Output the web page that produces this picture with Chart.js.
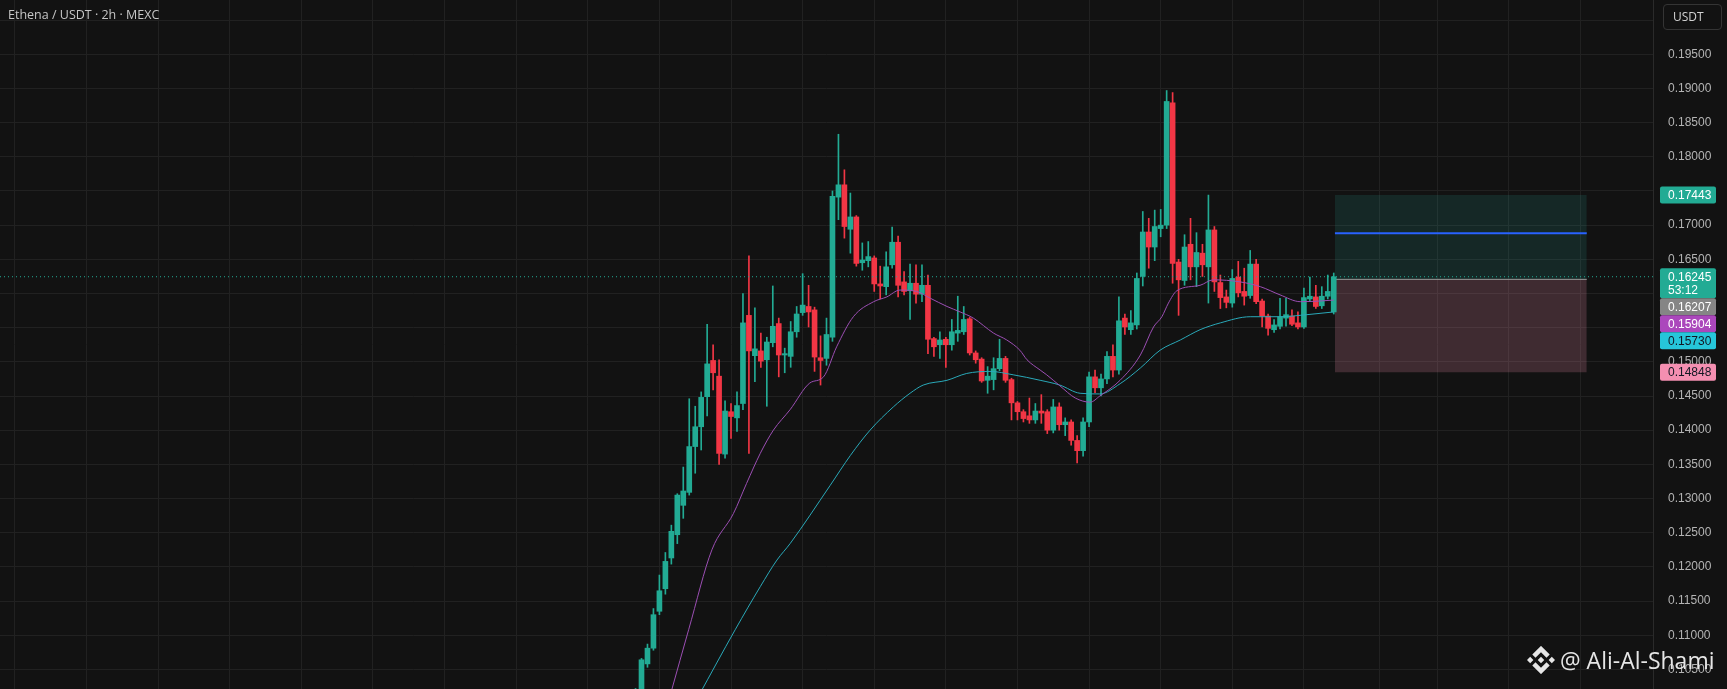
<!DOCTYPE html>
<html>
<head>
<meta charset="utf-8">
<title>Ethena / USDT 2h</title>
<script src="https://cdn.jsdelivr.net/npm/chart.js@4.4.1/dist/chart.umd.min.js"></script>
<style>
  html, body { margin: 0; padding: 0; background: #121212; overflow: hidden; }
  #wrap { position: relative; width: 1727px; height: 689px; }
  #chart { display: block; }
  #title { position: absolute; left: 8px; top: 6px; font: 12.5px 'Open Sans', sans-serif; color: #c6c6c6; }
  #unit { position: absolute; left: 1663px; top: 4px; width: 59px; height: 26px; box-sizing: border-box;
          border: 1px solid #343434; border-radius: 4px; font: 12px 'Open Sans', sans-serif; color: #d2d2d2;
          line-height: 24px; padding-left: 9px; }
  #mark { position: absolute; left: 1527px; top: 644px; display: flex; align-items: center; color: #e6e6e6;
          font: 23px 'Open Sans', sans-serif; }
  #mark svg { width: 28px; height: 28px; margin-right: 5px; }
</style>
</head>
<body>
<div id="wrap">
  <canvas id="chart" width="1727" height="689"></canvas>
  <div id="title">Ethena / USDT · 2h · MEXC</div>
  <div id="unit">USDT</div>
  <div id="mark">
    <svg viewBox="0 0 126 126"><path fill="#e6e6e6" d="M38.2 53L63 28.2 87.8 53l14.4-14.4L63-.6 23.8 38.6zM0 63l14.4-14.4L28.8 63 14.4 77.4zM38.2 73L63 97.8 87.8 73l14.4 14.4L63 126.6 23.8 87.4zM97.2 63l14.4-14.4L126 63l-14.4 14.4zM77.6 63L63 48.4 48.4 63 63 77.6z"/></svg>
    <span>@ Ali-Al-Shami</span>
  </div>
</div>
<script>
// 2h candles, bar index 106 .. 223 (index = bar slot on the time axis)
const firstBar = 106;
const opens = [
  0.0995, 0.1018, 0.1058, 0.1081, 0.1135, 0.1168, 0.1213, 0.1247, 0.1290, 0.1309,
  0.1376, 0.1405, 0.1449, 0.1502, 0.1479, 0.1365, 0.1427, 0.1418, 0.1439, 0.1568,
  0.1509, 0.1516, 0.1503, 0.1528, 0.1556, 0.1510, 0.1508, 0.1544, 0.1572, 0.1581,
  0.1576, 0.1506, 0.1505, 0.1536, 0.1741, 0.1759, 0.1694, 0.1712, 0.1645, 0.1648,
  0.1652, 0.1614, 0.1610, 0.1642, 0.1675, 0.1617, 0.1604, 0.1615, 0.1599, 0.1612,
  0.1534, 0.1525, 0.1533, 0.1525, 0.1542, 0.1544, 0.1563, 0.1513, 0.1504, 0.1473,
  0.1474, 0.1490, 0.1505, 0.1474, 0.1440, 0.1427, 0.1421, 0.1415, 0.1428, 0.1427,
  0.1400, 0.1434, 0.1408, 0.1412, 0.1385, 0.1370, 0.1412, 0.1478, 0.1462, 0.1475,
  0.1508, 0.1488, 0.1564, 0.1547, 0.1554, 0.1625, 0.1690, 0.1668, 0.1695, 0.1700,
  0.1879, 0.1646, 0.1619, 0.1672, 0.1639, 0.1659, 0.1639, 0.1693, 0.1616, 0.1595,
  0.1586, 0.1624, 0.1603, 0.1597, 0.1643, 0.1589, 0.1567, 0.1547, 0.1552, 0.1564,
  0.1567, 0.1557, 0.1551, 0.1592, 0.1595, 0.1582, 0.1596, 0.1573
];
const highs = [
  0.1022, 0.1066, 0.1087, 0.1139, 0.1188, 0.1221, 0.1261, 0.1307, 0.1346, 0.1446,
  0.1435, 0.1456, 0.1555, 0.1525, 0.1503, 0.1443, 0.1439, 0.1456, 0.1600, 0.1655,
  0.1579, 0.1542, 0.1536, 0.1611, 0.1564, 0.1520, 0.1559, 0.1581, 0.1629, 0.1612,
  0.1580, 0.1538, 0.1564, 0.1750, 0.1833, 0.1781, 0.1747, 0.1714, 0.1674, 0.1676,
  0.1655, 0.1640, 0.1661, 0.1697, 0.1684, 0.1632, 0.1643, 0.1642, 0.1642, 0.1627,
  0.1536, 0.1544, 0.1536, 0.1562, 0.1596, 0.1581, 0.1565, 0.1516, 0.1506, 0.1493,
  0.1506, 0.1533, 0.1508, 0.1476, 0.1442, 0.1430, 0.1447, 0.1439, 0.1452, 0.1430,
  0.1445, 0.1440, 0.1418, 0.1415, 0.1392, 0.1418, 0.1485, 0.1488, 0.1482, 0.1515,
  0.1525, 0.1595, 0.1570, 0.1575, 0.1630, 0.1720, 0.1710, 0.1722, 0.1723, 0.1897,
  0.1894, 0.1650, 0.1686, 0.1710, 0.1689, 0.1672, 0.1744, 0.1698, 0.1627, 0.1605,
  0.1635, 0.1647, 0.1637, 0.1663, 0.1650, 0.1592, 0.1570, 0.1562, 0.1593, 0.1593,
  0.1576, 0.1573, 0.1608, 0.1624, 0.1612, 0.1610, 0.1627, 0.1630
];
const lows = [
  0.0990, 0.1012, 0.1053, 0.1078, 0.1130, 0.1160, 0.1204, 0.1234, 0.1271, 0.1305,
  0.1337, 0.1371, 0.1421, 0.1459, 0.1350, 0.1359, 0.1388, 0.1398, 0.1430, 0.1366,
  0.1471, 0.1492, 0.1435, 0.1522, 0.1478, 0.1484, 0.1492, 0.1536, 0.1568, 0.1551,
  0.1486, 0.1466, 0.1495, 0.1530, 0.1708, 0.1681, 0.1659, 0.1640, 0.1634, 0.1639,
  0.1603, 0.1592, 0.1598, 0.1637, 0.1595, 0.1598, 0.1562, 0.1586, 0.1588, 0.1512,
  0.1508, 0.1505, 0.1492, 0.1517, 0.1530, 0.1540, 0.1510, 0.1498, 0.1470, 0.1454,
  0.1459, 0.1487, 0.1470, 0.1415, 0.1415, 0.1412, 0.1410, 0.1410, 0.1410, 0.1395,
  0.1396, 0.1400, 0.1392, 0.1378, 0.1352, 0.1362, 0.1405, 0.1455, 0.1450, 0.1468,
  0.1478, 0.1482, 0.1540, 0.1540, 0.1548, 0.1611, 0.1637, 0.1648, 0.1683, 0.1695,
  0.1615, 0.1568, 0.1612, 0.1620, 0.1610, 0.1625, 0.1586, 0.1603, 0.1578, 0.1579,
  0.1580, 0.1595, 0.1583, 0.1593, 0.1585, 0.1551, 0.1539, 0.1543, 0.1548, 0.1552,
  0.1553, 0.1548, 0.1549, 0.1588, 0.1578, 0.1578, 0.1592, 0.1570
];
const closes = [
  0.1015, 0.1064, 0.1081, 0.1130, 0.1165, 0.1208, 0.1252, 0.1305, 0.1311, 0.1376,
  0.1405, 0.1448, 0.1497, 0.1484, 0.1366, 0.1428, 0.1420, 0.1436, 0.1557, 0.1516,
  0.1519, 0.1501, 0.1529, 0.1552, 0.1510, 0.1512, 0.1544, 0.1570, 0.1583, 0.1573,
  0.1507, 0.1502, 0.1540, 0.1742, 0.1759, 0.1698, 0.1712, 0.1644, 0.1649, 0.1654,
  0.1614, 0.1611, 0.1639, 0.1675, 0.1612, 0.1603, 0.1615, 0.1599, 0.1612, 0.1533,
  0.1522, 0.1532, 0.1525, 0.1544, 0.1546, 0.1562, 0.1513, 0.1503, 0.1472, 0.1479,
  0.1490, 0.1505, 0.1473, 0.1440, 0.1427, 0.1417, 0.1415, 0.1428, 0.1425, 0.1400,
  0.1434, 0.1408, 0.1412, 0.1385, 0.1370, 0.1412, 0.1478, 0.1462, 0.1475, 0.1508,
  0.1488, 0.1560, 0.1551, 0.1557, 0.1622, 0.1690, 0.1668, 0.1698, 0.1700, 0.1881,
  0.1644, 0.1620, 0.1668, 0.1639, 0.1660, 0.1642, 0.1693, 0.1617, 0.1594, 0.1587,
  0.1622, 0.1601, 0.1596, 0.1643, 0.1588, 0.1567, 0.1549, 0.1554, 0.1566, 0.1569,
  0.1555, 0.1551, 0.1594, 0.1596, 0.1581, 0.1596, 0.1603, 0.16245
];

// moving averages: [bar index, price]
const maFast = [
  [112, 0.1018], [114.9, 0.1108], [118.8, 0.1225], [122.4, 0.1278], [124.6, 0.1322],
  [126.9, 0.1366], [129.1, 0.1400], [131.9, 0.1430], [135.2, 0.1469], [137.5, 0.1478],
  [139.7, 0.1522], [142.5, 0.1566], [145.9, 0.1588], [148.1, 0.1595], [150.3, 0.1605],
  [153.1, 0.1603], [155.4, 0.1593], [158.2, 0.1581], [160.4, 0.1573], [162.6, 0.1564],
  [166, 0.1542], [168.2, 0.1532], [170.4, 0.1517], [171.6, 0.1503], [173.8, 0.1488],
  [174.9, 0.1481], [177.1, 0.1465], [179.7, 0.1447], [182.2, 0.1441], [183.8, 0.1450],
  [187.2, 0.1473], [190.6, 0.1510], [192.8, 0.1551], [194.2, 0.1566], [195.3, 0.1586],
  [196.7, 0.1604], [200.6, 0.1612], [202.8, 0.1620], [207.3, 0.1617], [210.7, 0.1610],
  [214, 0.1598], [217.4, 0.1588], [220.7, 0.1589], [223, 0.15904]
];
const maSlow = [
  [116.5, 0.1010], [122.7, 0.1108], [126.9, 0.1171], [129.7, 0.1210], [131.9, 0.1234],
  [138.6, 0.1319], [142, 0.1363], [145.3, 0.1400], [149.2, 0.1434], [152, 0.1454],
  [154.2, 0.1466], [158.2, 0.1473], [161.5, 0.1483], [165.4, 0.1486], [169.3, 0.1481],
  [173.8, 0.1473], [177.1, 0.1466], [180.5, 0.1454], [183.8, 0.1453], [187.2, 0.1468],
  [190.6, 0.1491], [193.9, 0.1517], [197.3, 0.1532], [200.6, 0.1547], [204, 0.1557],
  [209, 0.1566], [214, 0.1566], [218.5, 0.1569], [223, 0.15730]
];

// long position tool
const posStart = 223.2;
const posEnd = 265.4;
const entry = 0.16207;
const target = 0.17443;
const stop = 0.14848;
const midLine = 0.16880;
const lastPrice = 0.16245;
const countdown = '53:12';

// axes
const priceTicks = [0.105, 0.110, 0.115, 0.120, 0.125, 0.130, 0.135, 0.140, 0.145, 0.150,
  0.155, 0.160, 0.165, 0.170, 0.175, 0.180, 0.185, 0.190, 0.195, 0.200];
const dayTicks = [2, 14, 26, 38, 50, 62, 74, 86, 98, 110, 122, 134, 146, 158, 170, 182,
  194, 206, 218, 230.6, 240.4, 252.3, 264.3];
const tagValues = [target, lastPrice, entry, 0.15904, 0.15730, stop];

const UP = '#22ab94';
const DOWN = '#f23645';
const barIdx = opens.map((_, k) => firstBar + k);
const candleColors = opens.map((o, k) => closes[k] >= o ? UP : DOWN);

function hline(y, x0, x1) {
  return [{ x: x0, y: y }, { x: x1, y: y }];
}

// axis label is dropped when a price tag sits on top of it
function tickLabel(v) {
  if (v > 0.1999) return '';
  if (tagValues.some(t => Math.abs(t - v) < 0.0012)) return '';
  return Number(v).toFixed(5);
}

// price tags on the right axis
const tagStyles = [
  { bg: '#22ab94', fg: '#ffffff' },
  { bg: '#22ab94', fg: '#ffffff', sub: countdown },
  { bg: '#858585', fg: '#ffffff' },
  { bg: '#ab47bc', fg: '#ffffff' },
  { bg: '#26c6da', fg: '#131722' },
  { bg: '#f48fb1', fg: '#131722' }
];

const priceTagPlugin = {
  id: 'priceTags',
  afterDraw(chart) {
    const ctx = chart.ctx;
    const ys = chart.scales.y;
    let prevBottom = -1e9;
    ctx.save();
    ctx.font = '12px "Liberation Sans", Arial, sans-serif';
    ctx.textBaseline = 'middle';
    ctx.textAlign = 'left';
    tagValues.forEach((v, k) => {
      const st = tagStyles[k];
      const y = ys.getPixelForValue(v);
      const h = st.sub ? 30 : 17;
      const top = Math.max(y - 8.5, prevBottom);
      const left = ys.left + 7;
      ctx.fillStyle = st.bg;
      ctx.beginPath();
      ctx.roundRect(left, top, 56, h, 2);
      ctx.fill();
      ctx.fillStyle = st.fg;
      ctx.fillText(v.toFixed(5), left + 8, top + 9);
      if (st.sub) ctx.fillText(st.sub, left + 8, top + 22.5);
      prevBottom = top + h;
    });
    ctx.restore();
  }
};

new Chart(document.getElementById('chart'), {
  type: 'bar',
  data: {
    datasets: [
      {
        type: 'line', label: 'MA fast',
        data: maFast.map(p => ({ x: p[0], y: p[1] })),
        borderColor: '#9c4fb4', borderWidth: 1, pointRadius: 0,
        cubicInterpolationMode: 'monotone', order: 1
      },
      {
        type: 'line', label: 'MA slow',
        data: maSlow.map(p => ({ x: p[0], y: p[1] })),
        borderColor: '#2aa9b9', borderWidth: 1, pointRadius: 0,
        cubicInterpolationMode: 'monotone', order: 2
      },
      {
        type: 'line', label: 'last price',
        data: hline(lastPrice, -0.5, 276.5),
        borderColor: '#22ab94', borderWidth: 1, borderDash: [1, 3], pointRadius: 0, order: 3
      },
      {
        label: 'bodies',
        data: barIdx.map((x, k) => ({ x: x, y: [opens[k], closes[k]] })),
        backgroundColor: candleColors, barThickness: 5, minBarLength: 1,
        grouped: false, order: 4
      },
      {
        label: 'wicks',
        data: barIdx.map((x, k) => ({ x: x, y: [lows[k], highs[k]] })),
        backgroundColor: candleColors, barThickness: 1,
        grouped: false, order: 5
      },
      {
        type: 'line', label: 'mid',
        data: hline(midLine, posStart, posEnd),
        borderColor: '#2962ff', borderWidth: 2, pointRadius: 0, order: 6
      },
      {
        type: 'line', label: 'entry',
        data: hline(entry, posStart, posEnd),
        borderColor: '#9a9a9a', borderWidth: 1, pointRadius: 0, order: 6
      },
      {
        type: 'line', label: 'profit',
        data: hline(target, posStart, posEnd),
        fill: { value: entry }, backgroundColor: 'rgba(38,166,154,0.15)',
        borderColor: 'transparent', borderWidth: 0, pointRadius: 0, order: 8
      },
      {
        type: 'line', label: 'loss',
        data: hline(stop, posStart, posEnd),
        fill: { value: entry }, backgroundColor: 'rgba(244,143,177,0.2)',
        borderColor: 'transparent', borderWidth: 0, pointRadius: 0, order: 8
      }
    ]
  },
  options: {
    responsive: false,
    animation: false,
    devicePixelRatio: 1,
    layout: { padding: 0, autoPadding: false },
    elements: { point: { radius: 0, hoverRadius: 0 } },
    plugins: {
      legend: { display: false },
      tooltip: { enabled: false }
    },
    scales: {
      x: {
        type: 'linear', min: -0.5, max: 276.5, offset: false, bounds: 'data',
        grid: { color: '#212121', drawTicks: false, offset: false },
        border: { display: false },
        ticks: { display: false },
        afterBuildTicks: s => { s.ticks = dayTicks.map(v => ({ value: v })); },
        afterFit: s => { s.height = 0; s.paddingLeft = 0; s.paddingRight = 0; }
      },
      y: {
        position: 'right', min: 0.102126, max: 0.202946, bounds: 'data',
        grid: { color: '#212121', drawTicks: false },
        border: { display: true, color: '#2a2a2a' },
        ticks: {
          color: '#b4b4b4', padding: 15,
          font: { family: '"Liberation Sans", Arial, sans-serif', size: 12 },
          callback: tickLabel
        },
        afterBuildTicks: s => { s.ticks = priceTicks.map(v => ({ value: v })); },
        afterFit: s => { s.width = 74; s.paddingTop = 0; s.paddingBottom = 0; }
      }
    }
  },
  plugins: [priceTagPlugin]
});
</script>
</body>
</html>
